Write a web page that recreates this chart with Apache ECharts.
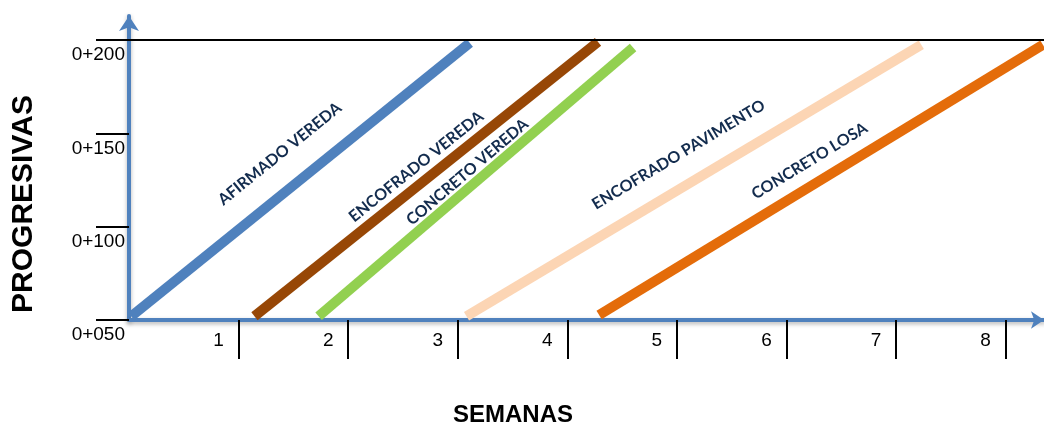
<!DOCTYPE html>
<html><head><meta charset="utf-8">
<script src="https://cdn.jsdelivr.net/npm/echarts@6/dist/echarts.min.js"></script>
<style>html,body{margin:0;padding:0;background:#fff}#c{width:1044px;height:428px}</style>
</head><body><div id="c"></div>
<script>
// ---- data ----
const weekTicks = [1, 2, 3, 4, 5, 6, 7, 8];
const weekLabels = ['1', '2', '3', '4', '5', '6', '7', '8'];
const progTicks = [50, 100, 150, 200];
const progLabels = ['0+050', '0+100', '0+150', '0+200'];
const activities = ['AFIRMADO VEREDA', 'ENCOFRADO VEREDA', 'CONCRETO VEREDA', 'ENCOFRADO PAVIMENTO', 'CONCRETO LOSA'];
const afirmadoVereda = [[0.02, 52], [3.11, 198.5]];
const encofradoVereda = [[1.145, 52], [4.28, 199]];
const concretoVereda = [[1.73, 52], [4.60, 196]];
const encofradoPavimento = [[3.08, 52], [7.23, 197.5]];
const concretoLosa = [[4.29, 52.7], [8.34, 197.5]];
const topProgresiva = 200;

// ---- styles ----
const colors = ['#4F81BD', '#974706', '#92D050', '#FCD5B4', '#E46C0A'];
const labelGap = [25, 8, 5, 22, 14];
const seriesData = [afirmadoVereda, encofradoVereda, concretoVereda, encofradoPavimento, concretoLosa];

const chart = echarts.init(document.getElementById('c'), null, {renderer: 'canvas'});
const axisBlue = {color: '#4F81BD', width: 4, shadowColor: 'rgba(0,0,0,0.3)', shadowBlur: 4, shadowOffsetY: 2};

const series = seriesData.map((d, i) => {
  const mlData = [[
    {coord: d[0], label: {show: true, position: 'insideMiddleTop', distance: labelGap[i], formatter: activities[i],
      color: '#132C4E', opacity: 1, fontFamily: 'Lato', fontWeight: 'bold', fontSize: 16}},
    {coord: d[1]}
  ]];
  if (i === 0) {
    mlData.push({yAxis: topProgresiva, lineStyle: {color: '#000', width: 2, type: 'solid', opacity: 1}, label: {show: false}});
  }
  return {
    type: 'line',
    name: activities[i],
    data: d,
    showSymbol: false,
    symbol: 'none',
    clip: false,
    lineStyle: {color: colors[i], width: 10, cap: 'butt'},
    z: 3,
    markLine: {
      silent: true,
      symbol: 'none',
      animation: false,
      lineStyle: {width: 0, color: 'rgba(0,0,0,0)', opacity: 1},
      label: {opacity: 1},
      data: mlData
    }
  };
});

chart.setOption({
  animation: false,
  backgroundColor: '#fff',
  grid: {left: 129, right: 0, top: 16, bottom: 108, containLabel: false},
  xAxis: {
    type: 'value', min: 0, max: 8.35, interval: 1,
    axisLine: {show: true, symbol: ['none', 'arrow'], symbolSize: [13, 13], lineStyle: axisBlue},
    axisTick: {show: true, customValues: weekTicks, length: 39, lineStyle: {color: '#000', width: 2}},
    axisLabel: {customValues: weekTicks, formatter: v => weekLabels[weekTicks.indexOf(v)],
      fontFamily: 'Liberation Sans', fontSize: 19, color: '#000', margin: 11, align: 'center', padding: [0, 40, 0, 0]},
    splitLine: {show: false}
  },
  yAxis: {
    type: 'value', min: 50, max: 212.9, interval: 50,
    axisLine: {show: true, symbol: ['none', 'arrow'], symbolSize: [15, 15], lineStyle: axisBlue},
    axisTick: {show: true, customValues: progTicks, length: 33, lineStyle: {color: '#000', width: 2}},
    axisLabel: {customValues: progTicks, formatter: v => progLabels[progTicks.indexOf(v)],
      fontFamily: 'Liberation Sans', fontSize: 19, color: '#000', margin: 4, verticalAlign: 'top', lineHeight: 30},
    splitLine: {show: false}
  },
  graphic: [
    {type: 'text', x: 24, y: 204, rotation: Math.PI / 2,
      style: {text: 'PROGRESIVAS', font: 'bold 30px "Liberation Sans"', fill: '#000', align: 'center', verticalAlign: 'middle'}},
    {type: 'text', x: 513, y: 415,
      style: {text: 'SEMANAS', font: 'bold 24px "Liberation Sans"', fill: '#000', align: 'center', verticalAlign: 'middle'}}
  ],
  series: series
});
</script>
</body></html>
